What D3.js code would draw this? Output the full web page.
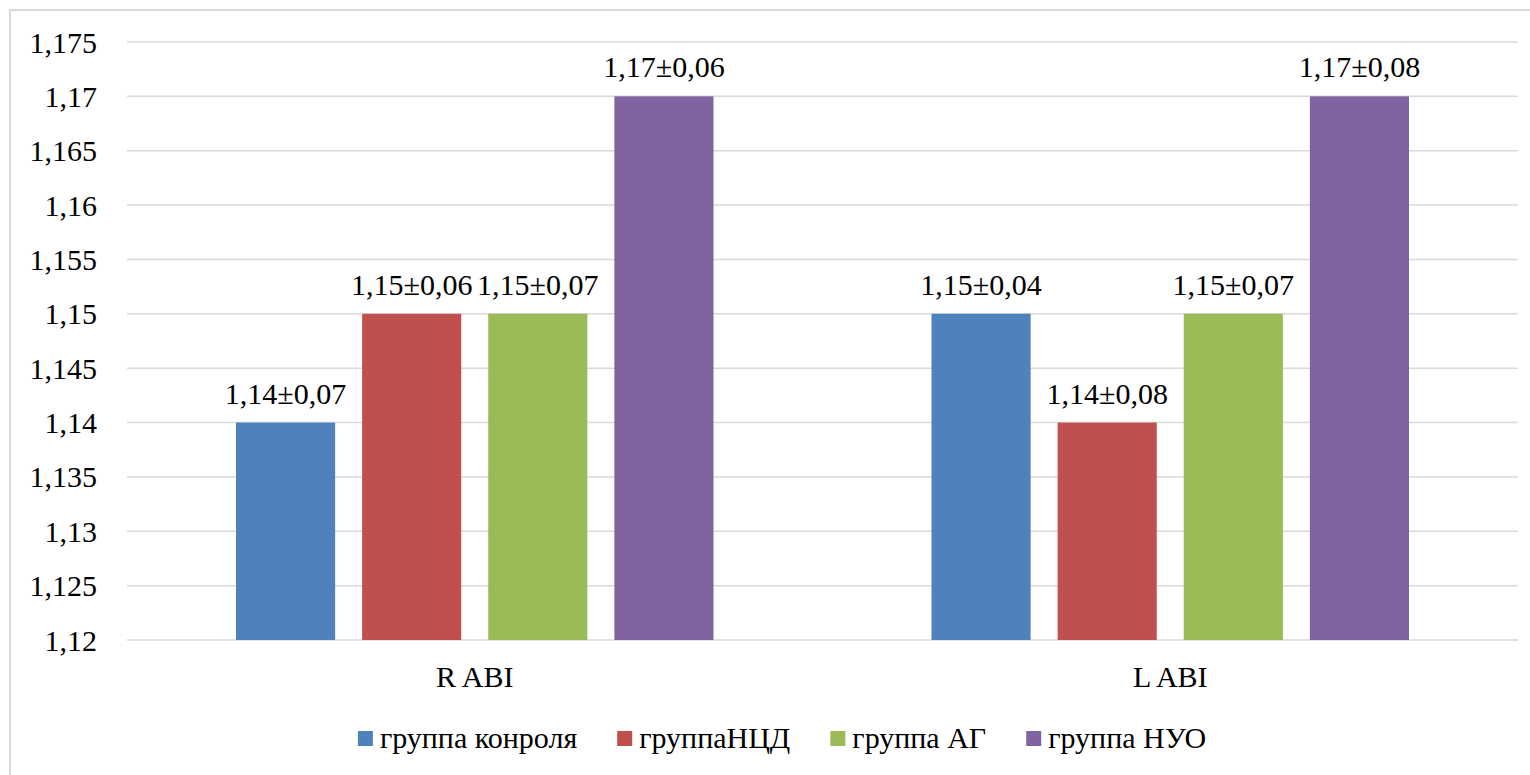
<!DOCTYPE html>
<html>
<head>
<meta charset="utf-8">
<script src="https://cdn.jsdelivr.net/npm/d3@7/dist/d3.min.js"></script>
</head>
<body style="margin:0;padding:0;background:#fff">
<svg id="chart" width="1530" height="775" style="display:block"></svg>
<script>
// ---- data ----
const categories = ["R ABI", "L ABI"];
const seriesNames = ["группа конроля", "группаНЦД", "группа АГ", "группа НУО"];
const seriesColors = ["#4f81bd", "#c0504d", "#9bbb59", "#8064a2"];
const meansRABI = [1.14, 1.15, 1.15, 1.17];
const sdRABI    = [0.07, 0.06, 0.07, 0.06];
const meansLABI = [1.15, 1.14, 1.15, 1.17];
const sdLABI    = [0.04, 0.08, 0.07, 0.08];
const yTicks = [1.12, 1.125, 1.13, 1.135, 1.14, 1.145, 1.15, 1.155, 1.16, 1.165, 1.17, 1.175];

const means = [meansRABI, meansLABI];
const sds = [sdRABI, sdLABI];
const FONT = "Times New Roman";

const svg = d3.select("#chart");
const W = 1530, H = 775;

// outer frame (extends beyond the picture right/bottom)
svg.append("rect").attr("x", 10).attr("y", 10).attr("width", W).attr("height", H)
  .attr("fill", "#fff").attr("stroke", "#d9d9d9").attr("stroke-width", 2);

const plot = { left: 127, right: 1518, top: 42, bottom: 640 };

const y = d3.scaleLinear().domain([1.12, 1.175]).range([plot.bottom, plot.top]);
const x0 = d3.scaleBand().domain(categories).range([plot.left, plot.right]).padding(0);
const outerGap = 109;
const x1 = d3.scaleBand().domain(seriesNames).range([outerGap, x0.bandwidth() - outerGap]).paddingInner(0.214).paddingOuter(0);

const loc = d3.formatLocale({ decimal: ",", thousands: " ", grouping: [3], currency: ["", ""] });
const fmtTick = loc.format(".3~f");
const fmt2 = loc.format(".2f");

// gridlines
svg.append("g").selectAll("line").data(yTicks).join("line")
  .attr("x1", plot.left).attr("x2", plot.right)
  .attr("y1", d => y(d)).attr("y2", d => y(d))
  .attr("stroke", "#d9d9d9").attr("stroke-width", 1.5);

// y-axis tick labels
svg.selectAll("text.ytick").data(yTicks).join("text").attr("class", "ytick")
  .attr("x", 97).attr("y", d => y(d)).attr("dy", "0.35em")
  .attr("text-anchor", "end").attr("font-size", 30).style("font-family", FONT)
  .text(d => fmtTick(d));

// bars
const rows = [];
categories.forEach((c, ci) => seriesNames.forEach((s, si) =>
  rows.push({ c, s, si, v: means[ci][si], sd: sds[ci][si] })));

svg.selectAll("rect.bar").data(rows).join("rect").attr("class", "bar")
  .attr("x", d => x0(d.c) + x1(d.s)).attr("width", x1.bandwidth())
  .attr("y", d => y(d.v)).attr("height", d => y(1.12) - y(d.v))
  .attr("fill", d => seriesColors[d.si]);

svg.selectAll("text.val").data(rows).join("text").attr("class", "val")
  .attr("x", d => x0(d.c) + x1(d.s) + x1.bandwidth() / 2)
  .attr("y", d => y(d.v) - 19)
  .attr("text-anchor", "middle").attr("font-size", 30).style("font-family", FONT)
  .text(d => fmt2(d.v) + "±" + fmt2(d.sd));

// category labels
svg.selectAll("text.cat").data(categories).join("text").attr("class", "cat")
  .attr("x", d => x0(d) + x0.bandwidth() / 2).attr("y", plot.bottom + 47)
  .attr("text-anchor", "middle").attr("font-size", 30).style("font-family", FONT)
  .text(d => d);

// legend
const sq = 15, gapText = 7, gapItem = 40;
const lt = svg.selectAll("text.leg").data(seriesNames).join("text").attr("class", "leg")
  .attr("y", 748).attr("font-size", 30).style("font-family", FONT).text(d => d);
const widths = lt.nodes().map(n => sq + gapText + n.getComputedTextLength());
const total = d3.sum(widths) + gapItem * (widths.length - 1);
const starts = [];
let acc = 782 - total / 2;
widths.forEach(w => { starts.push(acc); acc += w + gapItem; });
lt.attr("x", (d, i) => starts[i] + sq + gapText);
svg.selectAll("rect.leg").data(seriesNames).join("rect").attr("class", "leg")
  .attr("x", (d, i) => starts[i]).attr("y", 748 - sq - 2)
  .attr("width", sq).attr("height", sq).attr("fill", (d, i) => seriesColors[i]);
</script>
</body>
</html>
